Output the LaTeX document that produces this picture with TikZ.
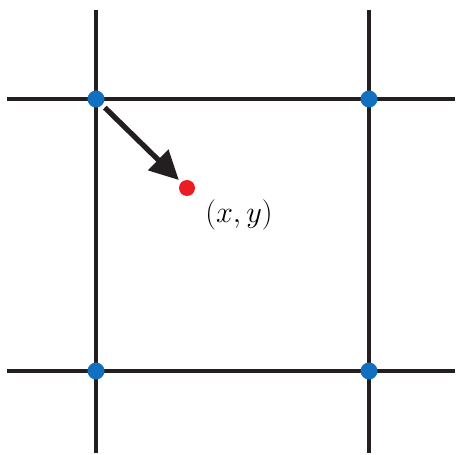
\documentclass[tikz,border=0pt]{standalone}
\usetikzlibrary{arrows.meta,positioning}
\definecolor{DotBlue}{RGB}{18,112,192}
\definecolor{DotRed}{RGB}{236,28,36}
\definecolor{LineBlack}{RGB}{35,31,32}
\tikzset{
  gridline/.style={draw=LineBlack,line width=2.2pt},
  griddot/.style={circle,fill=DotBlue,inner sep=0pt,minimum size=0.34cm},
  sampledot/.style={circle,fill=DotRed,inner sep=0pt,minimum size=0.32cm},
  offsetarrow/.style={-{Triangle[length=0.58cm,width=0.56cm]},
    line width=3pt,draw=LineBlack,shorten <=2pt,shorten >=1.7pt},
}
\begin{document}
\begin{tikzpicture}[x=0.02cm,y=-0.02cm]
  \useasboundingbox (0,0) rectangle (456,455);
  % grid line ends
  \coordinate (l0) at (7,99);   \coordinate (r0) at (455,99);
  \coordinate (l1) at (7,371);  \coordinate (r1) at (455,371);
  \coordinate (t0) at (96,10);  \coordinate (b0) at (96,453);
  \coordinate (t1) at (369,10); \coordinate (b1) at (369,453);
  \draw[gridline] (l0) -- (r0);
  \draw[gridline] (l1) -- (r1);
  \draw[gridline] (t0) -- (b0);
  \draw[gridline] (t1) -- (b1);
  % corners of the cell
  \node[griddot] (p00) at (96,99) {};
  \node[griddot] (p10) at (369,99) {};
  \node[griddot] (p01) at (96,371) {};
  \node[griddot] (p11) at (369,371) {};
  % sample point
  \node[sampledot] (pt) at (187,188) {};
  \node[font=\fontsize{16.5}{20}\selectfont] (lbl) at (239,215) {$(x,y)$};
  \draw[offsetarrow] (p00) -- (pt);
\end{tikzpicture}
\end{document}
